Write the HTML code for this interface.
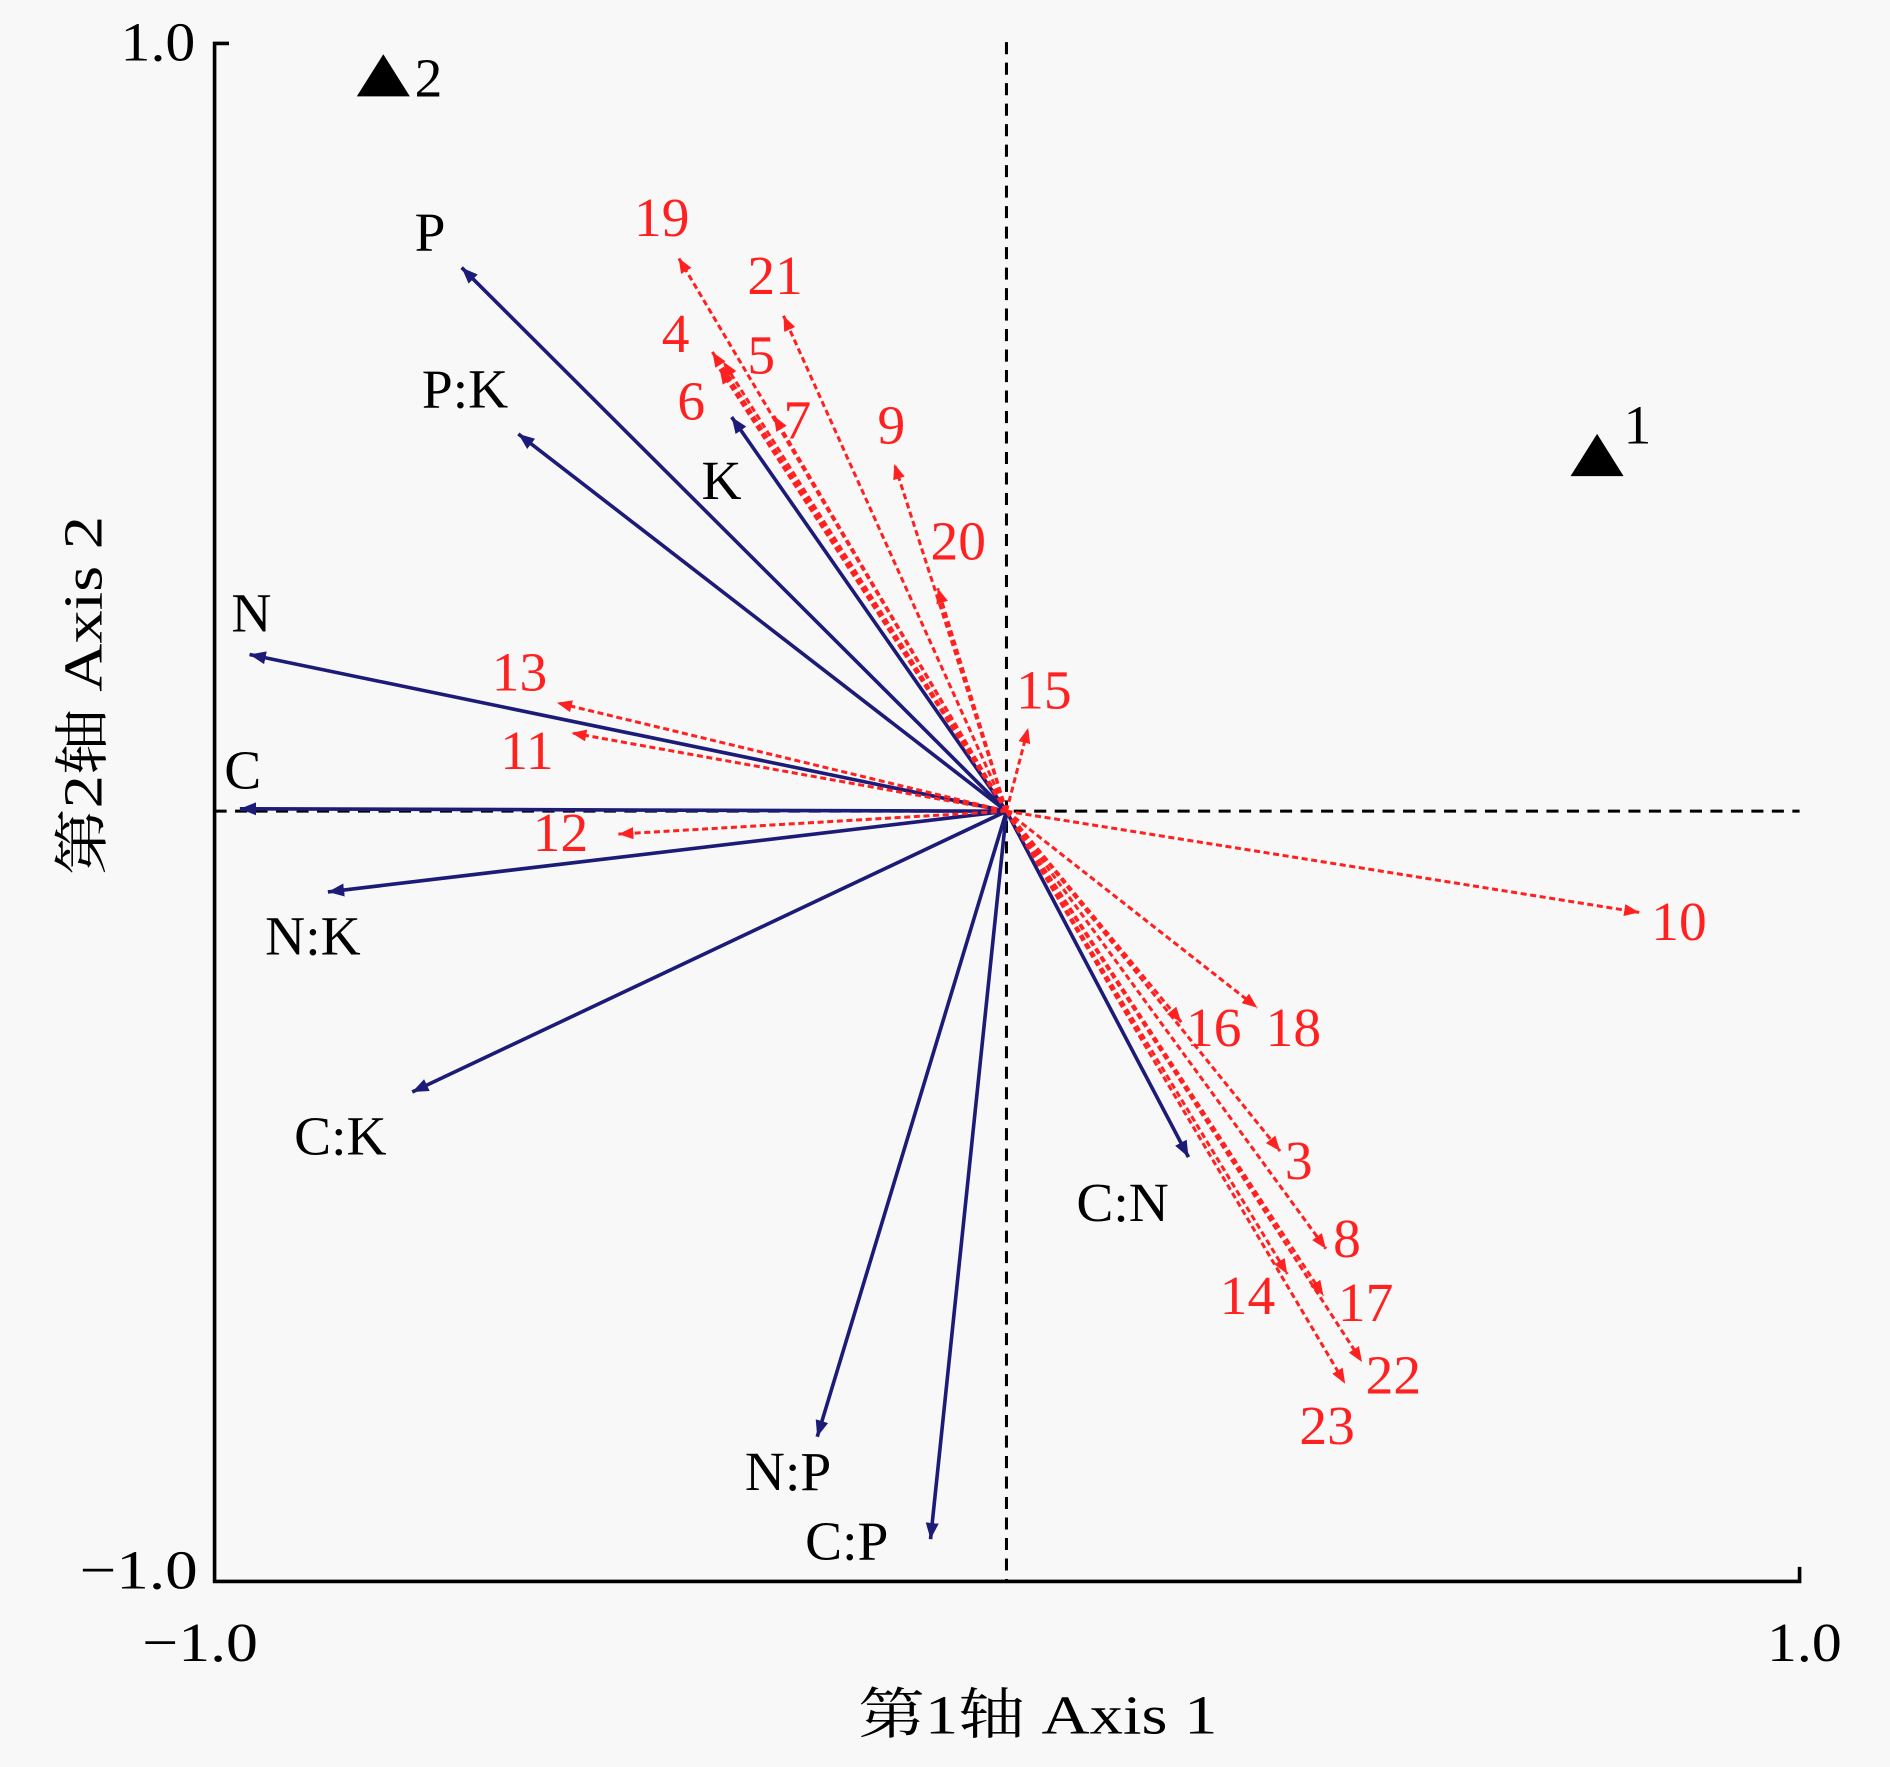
<!DOCTYPE html>
<html><head><meta charset="utf-8"><style>
html,body{margin:0;padding:0;background:#f8f8f8;}
svg{display:block;}
text{font-family:"Liberation Serif","Times New Roman","Noto Serif CJK SC",serif;}
</style></head><body>
<svg width="1890" height="1767" viewBox="0 0 1568 1466" xmlns="http://www.w3.org/2000/svg">
<defs>
<marker id="bh" viewBox="0 0 10 10" refX="10" refY="5" markerWidth="4.5" markerHeight="4.5" orient="auto"><path d="M0,1 L10,5 L0,9 z" fill="#1c1c78"/></marker>
<marker id="rh" viewBox="0 0 10 10" refX="10" refY="5" markerWidth="5" markerHeight="5" orient="auto"><path d="M0,1 L10,5 L0,9 z" fill="#ff2020"/></marker>
</defs>
<rect width="1568" height="1466" fill="#f8f8f8"/>
<path d="M190,36 L178,36 L178,1312 L1493,1312 L1493,1300" fill="none" stroke="#000" stroke-width="3"/>
<line x1="835" y1="35" x2="835" y2="1312" stroke="#000" stroke-width="2.5" stroke-dasharray="10,7"/>
<line x1="178" y1="673" x2="1493" y2="673" stroke="#000" stroke-width="2.5" stroke-dasharray="10,7"/>
<g font-size="46" fill="#000">
<text x="100" y="50" textLength="62" lengthAdjust="spacingAndGlyphs">1.0</text>
<text x="66" y="1318" textLength="98" lengthAdjust="spacingAndGlyphs">−1.0</text>
<text x="118" y="1378" textLength="96" lengthAdjust="spacingAndGlyphs">−1.0</text>
<text x="1466" y="1378" textLength="62" lengthAdjust="spacingAndGlyphs">1.0</text>
<text x="712" y="1438" textLength="298" lengthAdjust="spacingAndGlyphs">第1轴 Axis 1</text>
<text transform="translate(84,726) rotate(-90)" textLength="298" lengthAdjust="spacingAndGlyphs">第2轴 Axis 2</text>
</g>
<path d="M296,80 L340,80 L318,45 z" fill="#000"/><text x="344" y="80" font-size="46">2</text>
<path d="M1303,395 L1347,395 L1325,360 z" fill="#000"/><text x="1347" y="368" font-size="46">1</text>
<g stroke="#1c1c78" stroke-width="3" marker-end="url(#bh)">
<line x1="835" y1="673" x2="383" y2="222"/>
<line x1="835" y1="673" x2="430" y2="360"/>
<line x1="835" y1="673" x2="607" y2="346"/>
<line x1="835" y1="673" x2="207" y2="543"/>
<line x1="835" y1="673" x2="199" y2="671"/>
<line x1="835" y1="673" x2="272" y2="740"/>
<line x1="835" y1="673" x2="342" y2="906"/>
<line x1="835" y1="673" x2="678" y2="1192"/>
<line x1="835" y1="673" x2="772" y2="1277"/>
<line x1="835" y1="673" x2="986" y2="960"/>
</g>
<g stroke="#ff2020" stroke-width="2.5" stroke-dasharray="5,3" marker-end="url(#rh)">
<line x1="835" y1="673" x2="563" y2="214"/>
<line x1="835" y1="673" x2="650" y2="262"/>
<line x1="835" y1="673" x2="591" y2="292"/>
<line x1="835" y1="673" x2="600" y2="300"/>
<line x1="835" y1="673" x2="597" y2="306"/>
<line x1="835" y1="673" x2="642" y2="345"/>
<line x1="835" y1="673" x2="742" y2="385"/>
<line x1="835" y1="673" x2="778" y2="488"/>
<line x1="835" y1="673" x2="853" y2="604"/>
<line x1="835" y1="673" x2="462" y2="583"/>
<line x1="835" y1="673" x2="474" y2="608"/>
<line x1="835" y1="673" x2="513" y2="692"/>
<line x1="835" y1="673" x2="1360" y2="757"/>
<line x1="835" y1="673" x2="980" y2="848"/>
<line x1="835" y1="673" x2="1043" y2="836"/>
<line x1="835" y1="673" x2="1062" y2="955"/>
<line x1="835" y1="673" x2="1100" y2="1036"/>
<line x1="835" y1="673" x2="1068" y2="1057"/>
<line x1="835" y1="673" x2="1098" y2="1075"/>
<line x1="835" y1="673" x2="1130" y2="1130"/>
<line x1="835" y1="673" x2="1116" y2="1148"/>
</g>
<g font-size="46" fill="#000">
<text x="344" y="208">P</text>
<text x="350" y="338">P:K</text>
<text x="582" y="414">K</text>
<text x="192" y="524">N</text>
<text x="186" y="654">C</text>
<text x="220" y="792">N:K</text>
<text x="244" y="958">C:K</text>
<text x="618" y="1236">N:P</text>
<text x="668" y="1294">C:P</text>
<text x="893" y="1013">C:N</text>
</g>
<g font-size="46" fill="#ff2020">
<text x="526" y="196">19</text>
<text x="620" y="244">21</text>
<text x="549" y="292">4</text>
<text x="620" y="310">5</text>
<text x="562" y="348">6</text>
<text x="650" y="364">7</text>
<text x="728" y="368">9</text>
<text x="772" y="464">20</text>
<text x="843" y="588">15</text>
<text x="408" y="573">13</text>
<text x="415" y="638">11</text>
<text x="442" y="706">12</text>
<text x="1370" y="780">10</text>
<text x="984" y="868">16</text>
<text x="1050" y="868">18</text>
<text x="1066" y="978">3</text>
<text x="1106" y="1043">8</text>
<text x="1012" y="1090">14</text>
<text x="1110" y="1096">17</text>
<text x="1133" y="1156">22</text>
<text x="1078" y="1198">23</text>
</g>
</svg>
</body></html>
